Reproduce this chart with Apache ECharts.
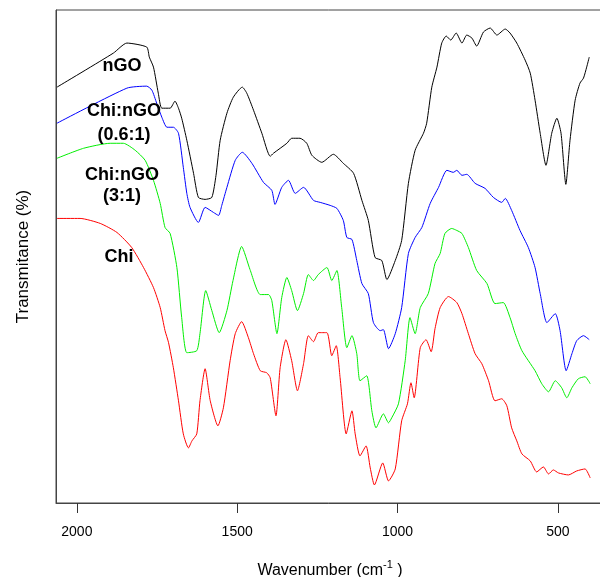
<!DOCTYPE html>
<html>
<head>
<meta charset="utf-8">
<script src="https://cdn.jsdelivr.net/npm/echarts@6/dist/echarts.min.js"></script>
<style>
  html, body { margin: 0; padding: 0; background: #fff; }
  #ftirChart { width: 600px; height: 577px; }
</style>
</head>
<body>
<div id="ftirChart"></div>
<script>
// x axis ticks (wavenumber, cm-1)
const xTicks = [500, 1000, 1500, 2000];

// nGO (black)
const ngoWn = [2062,1886,1844,1782,1774,1761,1746,1735,1709,1694,1683,1673,1657,1636,1621,1600,1579,1566,1553,1532,
  1512,1484,1470,1449,1423,1397,1387,1345,1330,1304,1283,1267,1236,1200,1169,1137,1111,1091,1070,1049,
  1033,1007,987,966,945,919,909,893,877,862,848,834,817,799,784,768,753,732,711,690,
  664,649,628,602,586,571,555,537,519,503,490,475,462,446,431,420,410,402];
const ngoT = [415,449,459,455,445,435,409,394,394,401,394,384,362,329,305,303,305,327,362,389,
  405,415,409,392,369,346,349,359,364,364,359,347,340,348,339,329,302,282,245,242,
  223,242,262,319,352,369,379,415,435,459,466,462,469,459,467,464,456,470,474,467,
  473,469,459,442,429,402,369,337,369,384,369,318,362,402,419,424,435,445];

// Chi:nGO (0.6:1) (blue)
const mix06Wn = [2062,1844,1782,1766,1751,1735,1719,1699,1683,1668,1657,1647,1621,1600,1574,1558,1548,1532,1506,1484,
  1454,1418,1392,1382,1361,1340,1319,1293,1262,1241,1210,1189,1169,1158,1142,1127,1111,1091,1075,1054,
  1044,1028,1007,987,966,945,924,898,872,846,826,815,799,784,758,727,701,675,664,644,
  618,592,571,555,534,508,493,474,456,441,420,402];
const mix06T = [379,414,416,412,399,385,375,375,369,335,309,295,280,295,290,287,297,315,342,350,
  339,320,312,298,315,322,309,315,302,300,297,294,282,265,263,242,219,209,180,172,
  173,154,169,195,249,265,275,299,315,332,330,332,327,328,319,314,305,300,304,292,
  272,255,235,209,180,189,172,132,149,162,167,163];

// Chi:nGO (3:1) (green)
const mix3Wn = [2062,1979,1896,1855,1818,1787,1761,1740,1725,1709,1688,1673,1657,1626,1616,1598,1579,1556,1532,1513,
  1486,1460,1428,1402,1392,1376,1361,1345,1330,1312,1293,1278,1262,1247,1220,1205,1189,1174,1158,1142,
  1127,1117,1096,1080,1067,1044,1028,1018,997,976,961,945,929,904,883,867,852,831,815,799,
  779,753,721,696,670,649,633,612,571,550,529,508,488,472,456,436,415,399];
const mix3T = [344,354,359,359,352,342,322,299,275,269,235,185,150,152,169,212,192,170,192,222,
  256,233,208,208,202,169,205,225,212,192,209,228,222,228,235,222,232,195,155,167,
  149,122,127,92,75,89,80,85,99,142,185,169,195,209,239,249,269,274,272,269,
  255,232,219,199,200,185,169,152,132,119,111,122,115,105,115,124,126,119];

// Chi (red)
const chiWn = [2062,1990,1927,1875,1829,1792,1761,1740,1725,1714,1699,1683,1668,1652,1641,1626,1616,1600,1584,1560,
  1543,1522,1506,1486,1465,1449,1428,1408,1397,1379,1366,1348,1330,1312,1293,1278,1262,1247,1220,1205,
  1191,1179,1160,1142,1132,1117,1098,1085,1072,1046,1028,1007,987,969,958,948,929,911,895,883,
  867,841,815,799,779,758,737,716,696,675,659,644,628,612,586,566,545,529,514,498,
  467,441,415,399];
const chiT = [284,284,279,270,255,235,215,195,172,160,135,102,69,55,62,69,102,134,102,77,
  95,142,169,181,165,149,132,130,125,87,135,163,142,112,139,167,161,170,170,147,
  157,125,69,92,69,47,57,35,18,40,22,34,82,99,120,105,155,163,151,174,
  195,206,200,189,169,149,139,122,102,104,97,75,62,49,42,31,36,29,33,30,
  28,32,34,25];

const fontFamily = '"Liberation Sans", Arial';

function pairs(xs, ys) {
  return xs.map((x, i) => [x, ys[i]]);
}

function spectrum(name, color, xs, ys) {
  return {
    name: name,
    type: 'line',
    data: pairs(xs, ys),
    showSymbol: false,
    smooth: 0.2,
    lineStyle: { color: color, width: 1 },
    animation: false
  };
}

// short tick marks under the x axis, placed with the axis scale
const tickSeries = {
  type: 'custom',
  data: xTicks.map(v => [v, 0]),
  encode: { x: 0, y: 1 },
  clip: false,
  silent: true,
  z: 10,
  animation: false,
  renderItem: function (params, api) {
    let p = api.coord([api.value(0), 0]);
    let x = Math.round(p[0]) + 0.5;
    return {
      type: 'line',
      shape: { x1: x, y1: p[1], x2: x, y2: p[1] + 10 },
      style: { stroke: '#333', lineWidth: 1 }
    };
  }
};

const labelFont = { fontSize: 18, fontWeight: 'bold', fontFamily: fontFamily, fill: '#000', align: 'center', verticalAlign: 'middle' };
function label(text, x, y) {
  return { type: 'text', x: x, y: y, z: 100, style: Object.assign({ text: text }, labelFont) };
}

let myChart = echarts.init(document.getElementById('ftirChart'));

let option = {
  grid: {
    left: 56, right: -4, top: 10, bottom: 74,
    outerBoundsMode: 'none',
    show: true, borderColor: '#444', borderWidth: 1
  },
  xAxis: {
    type: 'value',
    inverse: true,
    min: 356,
    max: 2065,
    axisLine: { show: true, lineStyle: { color: '#444' } },
    axisTick: { show: true, customValues: xTicks, length: 10, lineStyle: { color: '#333', width: 1 } },
    axisLabel: { customValues: xTicks, margin: 22, fontSize: 14, fontFamily: fontFamily, color: '#000', formatter: v => String(v) },
    splitLine: { show: false },
    name: 'Wavenumber (cm{sup|-1} )',
    nameLocation: 'middle',
    nameGap: 56,
    nameTextStyle: {
      fontSize: 16, fontFamily: fontFamily, color: '#000',
      rich: { sup: { fontSize: 11, fontFamily: fontFamily, color: '#000', padding: [0, 0, 12, 0] } }
    }
  },
  yAxis: {
    type: 'value',
    min: 0,
    max: 492,
    axisLine: { show: true, lineStyle: { color: '#444' } },
    axisTick: { show: false },
    axisLabel: { show: false },
    splitLine: { show: false },
    name: 'Transmitance (%)',
    nameLocation: 'middle',
    nameGap: 24,
    nameTextStyle: { fontSize: 17, fontFamily: fontFamily, color: '#000' }
  },
  series: [
    spectrum('nGO', '#000000', ngoWn, ngoT),
    spectrum('Chi:nGO (0.6:1)', '#0000ff', mix06Wn, mix06T),
    spectrum('Chi:nGO (3:1)', '#00ee00', mix3Wn, mix3T),
    spectrum('Chi', '#ff0000', chiWn, chiT),
    tickSeries
  ],
  graphic: [
    label('nGO', 122, 66),
    label('Chi:nGO', 124, 111),
    label('(0.6:1)', 124, 135),
    label('Chi:nGO', 122, 175),
    label('(3:1)', 122, 196),
    label('Chi', 119, 257)
  ]
};

option && myChart.setOption(option);
</script>
</body>
</html>
